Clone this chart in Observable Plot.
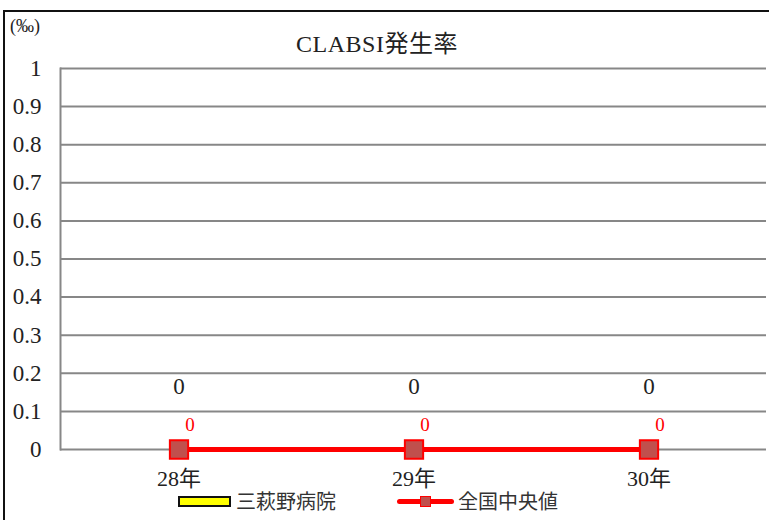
<!DOCTYPE html>
<html>
<head>
<meta charset="utf-8">
<script src="https://cdn.jsdelivr.net/npm/d3@7"></script>
<script src="https://cdn.jsdelivr.net/npm/@observablehq/plot@0.6"></script>
<style>
  html, body { margin: 0; padding: 0; background: #fff; overflow: hidden; }
  body { width: 769px; height: 520px; position: relative; font-family: "Liberation Serif", "Noto Sans CJK JP", serif; color: #222; }
  #box { position: absolute; left: 3px; top: 10px; width: 800px; height: 560px; border: 2px solid #111; box-sizing: border-box; }
  #chart { position: absolute; left: 0; top: 0; }
  #title { position: absolute; left: 0; width: 754px; top: 30px; text-align: center; font-size: 24px; line-height: 28px; letter-spacing: 0.5px; }
  #unit { position: absolute; left: 10px; top: 15px; font-size: 18px; line-height: 22px; }
  .lg { position: absolute; top: 488px; font-size: 20px; line-height: 26px; font-family: "Noto Sans CJK JP", sans-serif; color: #333; }
  .sw-bar { position: absolute; left: 178px; top: 496px; width: 53px; height: 11px; background: #ffff00; border: 2px solid #111; box-sizing: border-box; }
  .sw-line { position: absolute; left: 397px; top: 499px; width: 57px; height: 5px; background: #ff0000; border-radius: 3px; }
  .sw-sq { position: absolute; left: 420px; top: 496px; width: 11px; height: 11px; background: #c0504d; border: 1.5px solid #ff0000; box-sizing: border-box; }
</style>
</head>
<body>
<div id="box"></div>
<div id="chart"></div>
<div id="unit">(‰)</div>
<div id="title">CLABSI発生率</div>
<div class="sw-bar"></div>
<div class="lg" style="left:236px">三萩野病院</div>
<div class="sw-line"></div>
<div class="sw-sq"></div>
<div class="lg" style="left:458px">全国中央値</div>
<script>
// Fiscal years on the x axis
const years = ["28年", "29年", "30年"];
// CLABSI rate (‰) for the hospital
const hospitalRates = [0, 0, 0];
// National median CLABSI rate (‰)
const nationalMedian = [0, 0, 0];
// Y axis ticks
const yTicks = [0, 0.1, 0.2, 0.3, 0.4, 0.5, 0.6, 0.7, 0.8, 0.9, 1];

const hospital = years.map((year, i) => ({year, value: hospitalRates[i]}));
const median = years.map((year, i) => ({year, value: nationalMedian[i]}));

const serif = "Liberation Serif, Noto Sans CJK JP, serif";

const chart = Plot.plot({
  width: 769,
  height: 520,
  marginLeft: 60,
  marginRight: 3,
  marginTop: 68,
  marginBottom: 71,
  style: {fontFamily: serif, fontSize: "22px", color: "#222", background: "transparent"},
  x: {domain: years, padding: 0},
  y: {domain: [0, 1]},
  marks: [
    Plot.gridY(yTicks, {stroke: "#878787", strokeOpacity: 1, strokeWidth: 2}),
    Plot.frame({anchor: "left", stroke: "#878787", strokeWidth: 2}),
    Plot.axisY(yTicks, {tickSize: 0, tickPadding: 19, label: null, tickFormat: d => String(d), fontSize: 23, fontFamily: serif, fill: "#222"}),
    Plot.axisX({tickSize: 0, tickPadding: 21, label: null, fontSize: 22, fontFamily: serif, fill: "#222"}),
    Plot.barY(hospital, {x: "year", y: "value", fill: "#ffff00", stroke: "#111", insetLeft: 80, insetRight: 80}),
    Plot.text(hospital, {x: "year", y: "value", text: d => String(d.value), dy: -63, fill: "#222", fontSize: 23, fontFamily: serif}),
    Plot.line(median, {x: "year", y: "value", stroke: "#ff0000", strokeWidth: 5}),
    Plot.dot(median, {x: "year", y: "value", symbol: "square", r: 10.3, fill: "#c0504d", stroke: "#ff0000", strokeWidth: 2}),
    Plot.text(median, {x: "year", y: "value", text: d => String(d.value), dx: 11, dy: -25, fill: "#ff0000", fontSize: 19, fontFamily: serif})
  ]
});
document.getElementById("chart").appendChild(chart);
</script>
</body>
</html>
